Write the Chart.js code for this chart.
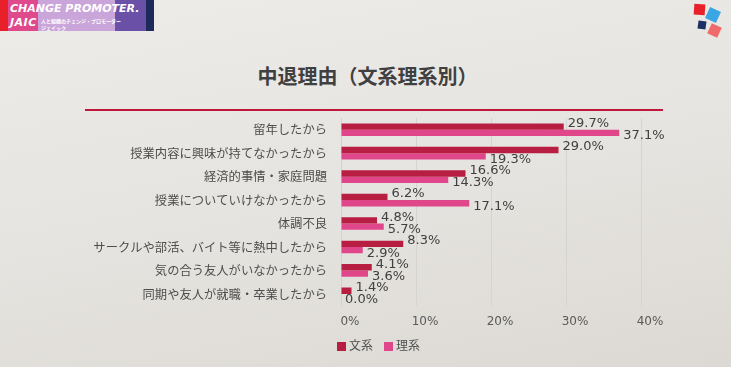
<!DOCTYPE html>
<html>
<head>
<meta charset="utf-8">
<script src="https://cdn.jsdelivr.net/npm/chart.js@4"></script>
<style>
  html, body { margin: 0; padding: 0; }
  body {
    width: 731px; height: 367px; overflow: hidden; position: relative;
    background: linear-gradient(170deg, #edece9 0%, #e5e3df 55%, #dcd9d4 100%);
    font-family: "Noto Sans CJK JP", sans-serif;
  }
  #wrap { position: absolute; left: 0; top: 0; width: 731px; height: 367px; }
  .logo { position: absolute; top: 0; height: 31px; }
  .logo-text { position: absolute; color: #fff; font-family: "DejaVu Sans", sans-serif; font-weight: bold; font-style: italic; }
  .sq { position: absolute; }
  #title {
    position: absolute; left: 0; width: 735px; top: 61px; text-align: center;
    font-size: 20px; font-weight: bold; color: #404040;
  }
  #rule { position: absolute; left: 85px; top: 109px; width: 578px; height: 2px; background: #c0163c; }
  .leg { position: absolute; top: 336px; font-size: 12px; color: #505050; }
  .leg i { display: inline-block; width: 9px; height: 9px; margin-right: 3px; vertical-align: -1px; }
</style>
</head>
<body>
<div class="logo" style="left:0;width:8px;background:#e8202a"></div>
<div class="logo" style="left:8px;width:30px;background:#de4a8c"></div>
<div class="logo" style="left:38px;width:77px;background:#c9a5da"></div>
<div class="logo" style="left:115px;width:31px;background:#6b50a8"></div>
<div class="logo" style="left:146px;width:8px;background:#1c2a5c"></div>
<div class="logo-text" style="left:10px;top:2px;font-size:11px">CHANGE PROMOTER.</div>
<div class="logo-text" style="left:10px;top:16px;font-size:11px;letter-spacing:0.5px">JAIC</div>
<div class="logo-text" style="left:41px;top:17px;font-size:5px;font-style:normal;font-family:'Noto Sans CJK JP'">人と組織のチェンジ・プロモーター<br>ジェイック</div>

<div class="sq" style="left:694px;top:4px;width:11px;height:11px;background:#e8202a;transform:rotate(4deg)"></div>
<div class="sq" style="left:707px;top:9px;width:12px;height:12px;background:#3ba6e4;transform:rotate(25deg)"></div>
<div class="sq" style="left:698px;top:21px;width:8px;height:8px;background:#1c2f66;transform:rotate(8deg)"></div>
<div class="sq" style="left:709px;top:25px;width:11px;height:11px;background:#f06a6c;transform:rotate(25deg)"></div>

<div id="title">中退理由（文系理系別）</div>
<div id="rule"></div>

<div id="wrap"><canvas id="grafico" width="731" height="367"></canvas></div>

<div class="leg" style="left:337px"><i style="background:#b81e42"></i>文系</div>
<div class="leg" style="left:384px"><i style="background:#e0478b"></i>理系</div>

<script>
// dados do gráfico
const categorias = [
  '留年したから',
  '授業内容に興味が持てなかったから',
  '経済的事情・家庭問題',
  '授業についていけなかったから',
  '体調不良',
  'サークルや部活、バイト等に熱中したから',
  '気の合う友人がいなかったから',
  '同期や友人が就職・卒業したから'
];
const bunkei = [29.7, 29.0, 16.6, 6.2, 4.8, 8.3, 4.1, 1.4];
const rikei = [37.1, 19.3, 14.3, 17.1, 5.7, 2.9, 3.6, 0.0];
const ticksX = [0, 10, 20, 30, 40];

// rótulos de valor no fim das barras
const rotulos = {
  id: 'rotulos',
  afterDatasetsDraw(chart) {
    const c = chart.ctx;
    c.save();
    c.font = '13px "DejaVu Sans"';
    c.fillStyle = '#404040';
    c.textBaseline = 'middle';
    c.textAlign = 'left';
    chart.data.datasets.forEach((ds, i) => {
      const dy = i === 0 ? -3 : 3;
      chart.getDatasetMeta(i).data.forEach((bar, j) => {
        c.fillText(ds.data[j].toFixed(1) + '%', bar.x + 4, bar.y + dy);
      });
    });
    c.restore();
  }
};

new Chart(document.getElementById('grafico'), {
  type: 'bar',
  data: {
    labels: categorias,
    datasets: [
      { label: '文系', data: bunkei, backgroundColor: '#b81e42' },
      { label: '理系', data: rikei, backgroundColor: '#e0478b' }
    ]
  },
  options: {
    indexAxis: 'y',
    responsive: false,
    animation: false,
    layout: { padding: { top: 118, right: 90, bottom: 29, left: 0 } },
    datasets: { bar: { categoryPercentage: 0.54, barPercentage: 1 } },
    plugins: { legend: { display: false }, tooltip: { enabled: false } },
    scales: {
      x: {
        min: 0, max: 40,
        afterBuildTicks: s => { s.ticks = ticksX.map(v => ({ value: v })); },
        grid: { color: '#d6d4d0', drawTicks: false },
        border: { display: false },
        ticks: {
          padding: 9, labelOffset: 9, color: '#595959',
          font: { family: 'DejaVu Sans', size: 12 },
          callback: v => v + '%'
        }
      },
      y: {
        afterFit: s => { s.width = 341; },
        grid: { display: false, drawTicks: false },
        border: { color: '#d4d2ce' },
        ticks: {
          padding: 14, color: '#4d4d4d',
          font: { family: 'Noto Sans CJK JP', size: 12.3 }
        }
      }
    }
  },
  plugins: [rotulos]
});
</script>
</body>
</html>
